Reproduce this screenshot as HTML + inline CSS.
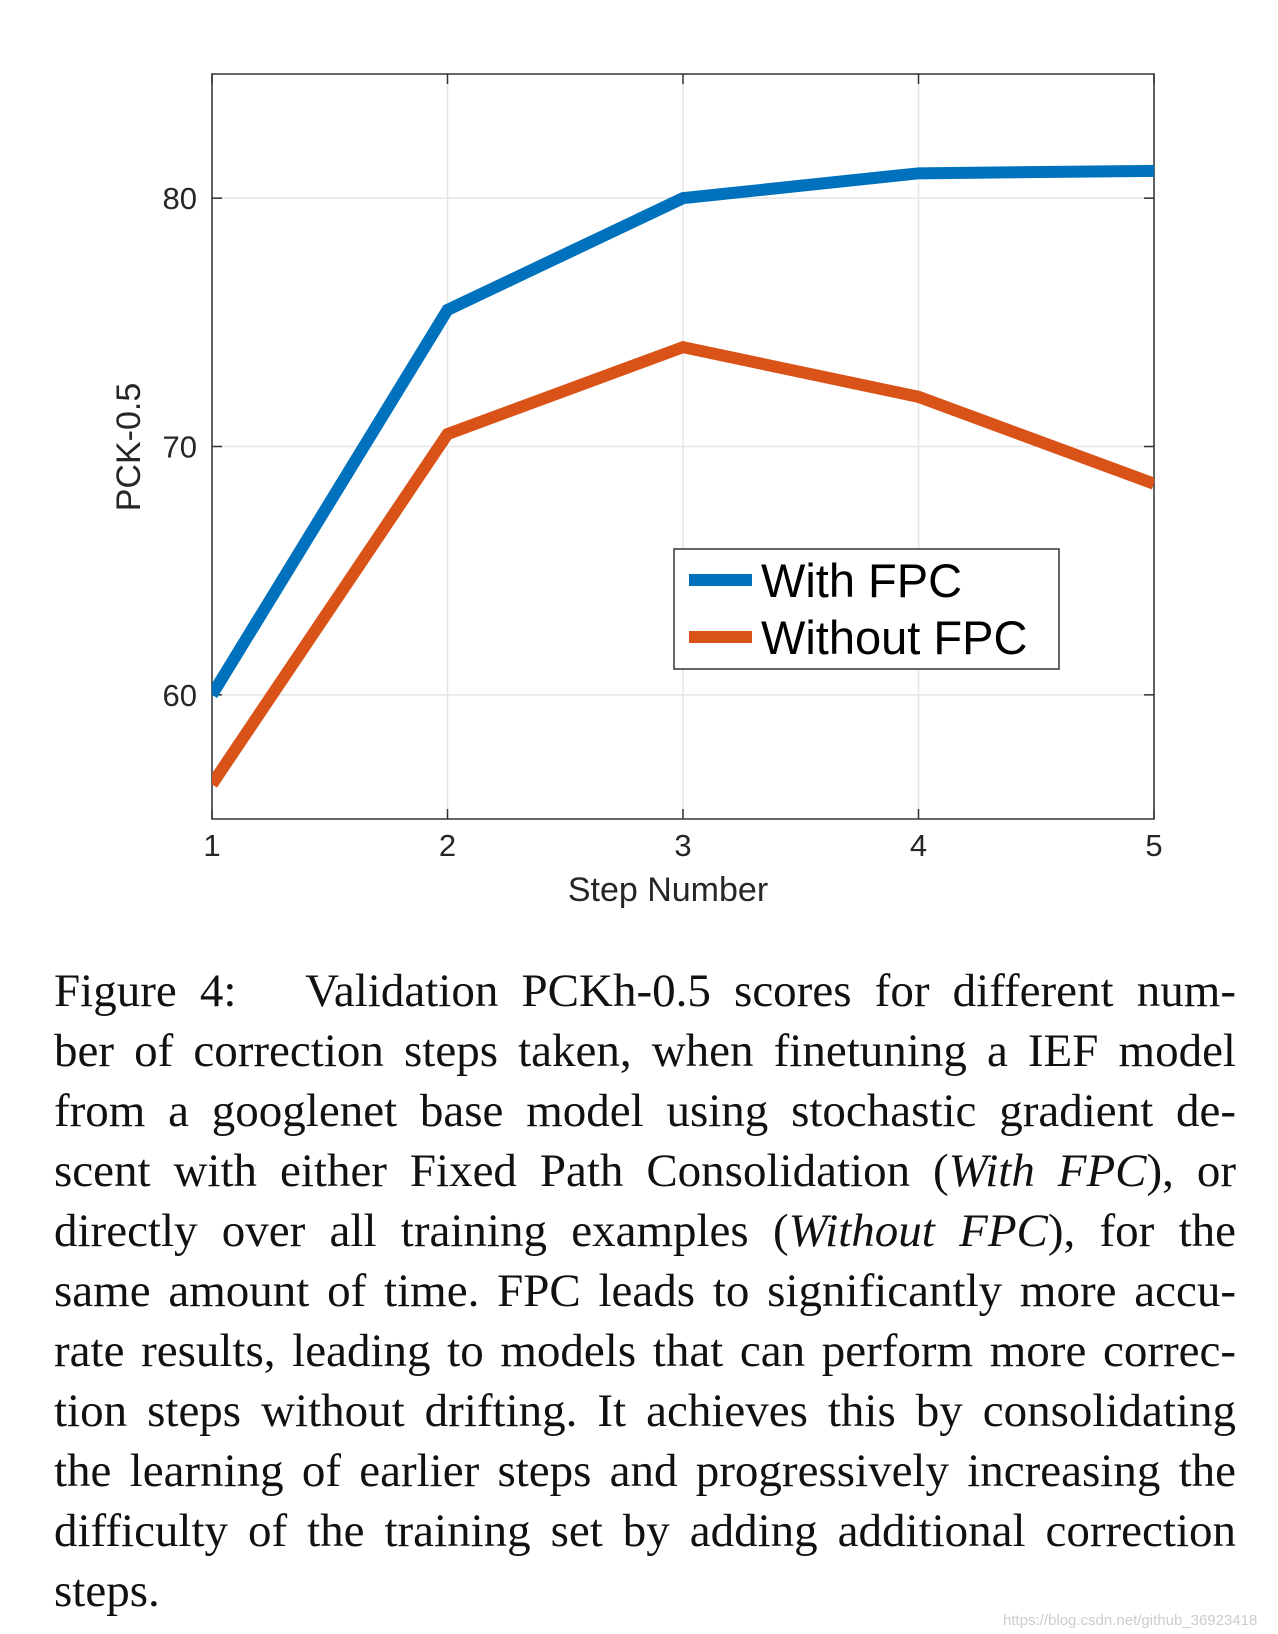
<!DOCTYPE html>
<html><head><meta charset="utf-8"><style>
body{margin:0;background:#fff;width:1278px;height:1634px;overflow:hidden;position:relative}
.cap{position:absolute;left:54px;width:1182px;top:961px;font-family:"Liberation Serif",serif;font-size:47px;color:#111}
.cap div{height:60px;line-height:60px;text-align:justify;text-align-last:justify;white-space:nowrap}
.cap div.last{text-align-last:left}
.wm{position:absolute;left:1003px;top:1612px;font-family:"Liberation Sans",sans-serif;font-size:15px;color:#ccc}
</style></head><body>
<svg id="chart" width="1278" height="950" style="position:absolute;left:0;top:0" font-family="Liberation Sans, sans-serif"></svg>
<div class="cap">
<div>Figure 4: &nbsp; Validation PCKh-0.5 scores for different num-</div>
<div>ber of correction steps taken, when finetuning a IEF model</div>
<div>from a googlenet base model using stochastic gradient de-</div>
<div>scent with either Fixed Path Consolidation (<i>With FPC</i>), or</div>
<div>directly over all training examples (<i>Without FPC</i>), for the</div>
<div>same amount of time. FPC leads to significantly more accu-</div>
<div>rate results, leading to models that can perform more correc-</div>
<div>tion steps without drifting. It achieves this by consolidating</div>
<div>the learning of earlier steps and progressively increasing the</div>
<div>difficulty of the training set by adding additional correction</div>
<div class="last">steps.</div>
</div>
<div class="wm">https://blog.csdn.net/github_36923418</div>
<script>
const steps=[1,2,3,4,5];
const withFPC=[60,75.5,80,81,81.1];
const withoutFPC=[56.4,70.5,74,72,68.5];
const yTicks=[60,70,80];
const L=212,R=1154,T=74,B=819,ymin=55,ymax=85;
const X=v=>L+(v-1)/4*(R-L);
const Y=v=>B-(v-ymin)/(ymax-ymin)*(B-T);
const svg=document.getElementById('chart');
const NS='http://www.w3.org/2000/svg';
function mk(t,a,p){const e=document.createElementNS(NS,t);for(const k in a)e.setAttribute(k,a[k]);(p||svg).appendChild(e);return e;}
steps.forEach(s=>{
 const g=mk('line',{x1:X(s),x2:X(s),y1:T,y2:B,stroke:'#e6e6e6','stroke-width':1.5});
 
 
 mk('line',{x1:X(s),x2:X(s),y1:B,y2:B-10,stroke:'#333','stroke-width':1.5});
 mk('line',{x1:X(s),x2:X(s),y1:T,y2:T+10,stroke:'#333','stroke-width':1.5});
 const t=mk('text',{x:X(s),y:B+37,'text-anchor':'middle','font-size':31,fill:'#262626'});t.textContent=s;
 
 
});
yTicks.forEach(v=>{
 const g=mk('line',{x1:L,x2:R,y1:Y(v),y2:Y(v),stroke:'#e6e6e6','stroke-width':1.5});
 
 
 mk('line',{x1:L,x2:L+10,y1:Y(v),y2:Y(v),stroke:'#333','stroke-width':1.5});
 mk('line',{x1:R,x2:R-10,y1:Y(v),y2:Y(v),stroke:'#333','stroke-width':1.5});
 const t=mk('text',{x:L-15,y:Y(v)+11,'text-anchor':'end','font-size':31,fill:'#262626'});t.textContent=v;
 
 
});
const fr=mk('rect',{x:L,y:T,width:R-L,height:B-T,fill:'none',stroke:'#333','stroke-width':1.5});


function series(vals,col,name){
 const p=mk('polyline',{points:vals.map((v,i)=>X(steps[i])+','+Y(v)).join(' '),fill:'none',stroke:col,'stroke-width':12,'stroke-linejoin':'miter'});
 
 
}
const cp=mk('clipPath',{id:'c'});mk('rect',{x:L,y:T,width:R-L,height:B-T},cp);
series(withFPC,'#0072BD','with-fpc-line');
series(withoutFPC,'#D95319','without-fpc-line');
svg.querySelectorAll('polyline').forEach(p=>p.setAttribute('clip-path','url(#c)'));
const xt=mk('text',{x:(L+R)/2-15,y:901,'text-anchor':'middle','font-size':34,fill:'#262626'});xt.textContent='Step Number';


const yt=mk('text',{x:0,y:0,transform:'translate(140,447) rotate(-90)','text-anchor':'middle','font-size':34,fill:'#262626'});yt.textContent='PCK-0.5';


const lg=mk('g',{});


mk('rect',{x:674,y:549,width:385,height:120,fill:'#fff',stroke:'#333','stroke-width':1.5},lg);
const le=[['With FPC','#0072BD',580],['Without FPC','#D95319',637]];
le.forEach(([n,c,y])=>{
 mk('line',{x1:689,x2:752,y1:y,y2:y,stroke:c,'stroke-width':12},lg);
 const t=mk('text',{x:761,y:y+17,'font-size':47,fill:'#000'},lg);t.textContent=n;
 
 
});
</script>
</body></html>
